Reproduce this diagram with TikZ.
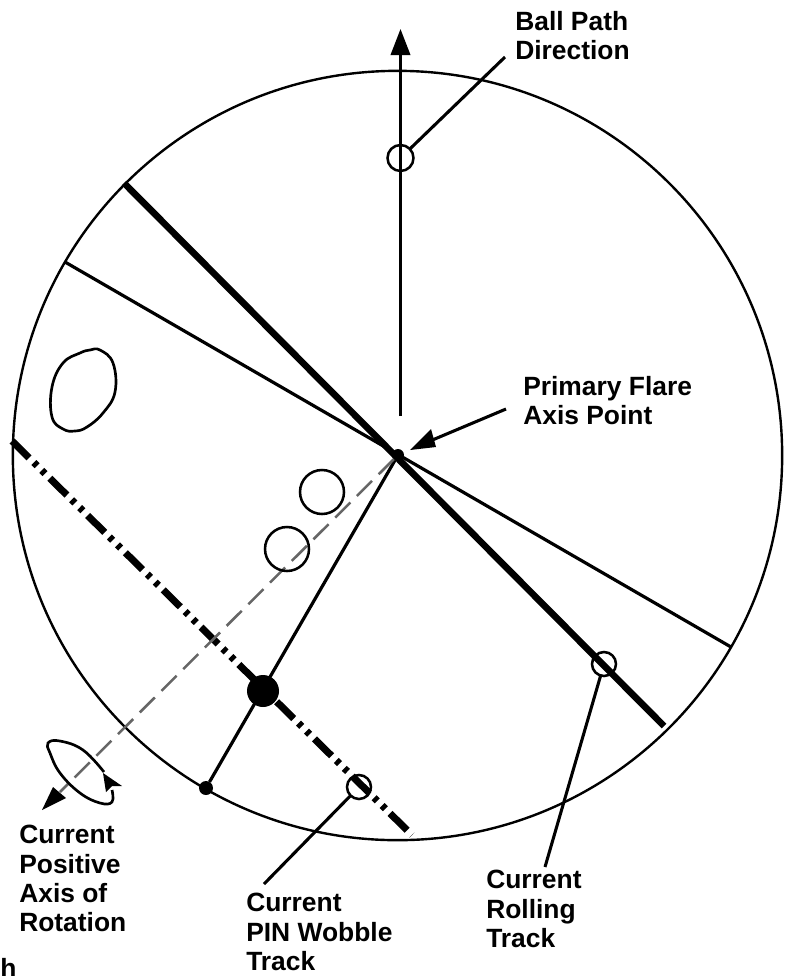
\documentclass[tikz,border=0pt]{standalone}
\usepackage{fontspec}
\setmainfont{Liberation Sans}
\usetikzlibrary{arrows.meta}
\tikzset{
  x=0.75pt,y=-0.75pt,
  lbl/.style={font=\bfseries\fontsize{19.8}{22}\selectfont,align=left,anchor=north west,inner sep=0pt,text=black},
  ring/.style={circle,draw=black,line width=1.9pt,fill=none,inner sep=0pt,outer sep=0pt},
  bigring/.style={ring,minimum size=33pt},
  smallring/.style={ring,minimum size=18pt},
  dotn/.style={circle,fill=black,inner sep=0pt,outer sep=0pt},
  call/.style={line width=2.3pt},
  dashax/.style={line width=5.3pt,dash pattern=on 18pt off 5pt on 3.4pt off 5pt on 3.4pt off 5pt},
}
\begin{document}
\begin{tikzpicture}
\useasboundingbox (0,0) rectangle (793,976);
\node[circle,draw=black,line width=1.8pt,inner sep=0pt,minimum size=577pt] (disc) at (397.5,455.5) {};
\coordinate (balltop) at (400.5,29);
\coordinate (ballbase) at (400.5,416);
\draw[line width=2pt,-{Triangle[length=19.5pt,width=14.5pt]}] (ballbase) -- (balltop);
\node[smallring,minimum size=19.5pt] (ballring) at (400.5,158) {};
\coordinate (ballcall) at (505,57);
\draw[call] (ballring) -- (ballcall);
\node[dotn,minimum size=9pt] (pfa) at (398,455) {};
\coordinate (t1) at (124,183); \coordinate (t2) at (664,726);
\draw[line width=5pt] (t1) -- (t2);
\coordinate (m1) at (65,262); \coordinate (m2) at (731,647);
\draw[line width=2.4pt] (m1) -- (m2);
\coordinate (w1) at (12,441); \coordinate (w2) at (412,835);
\draw[dashax] (w1) -- (w2);
\node[dotn,minimum size=24pt] (big) at (263,691) {};
\node[dotn,minimum size=10.5pt] (small) at (206,788) {};
\draw[line width=2.4pt] (pfa) -- (small);
\coordinate (axend) at (42,810);
\coordinate (axbase) at (60,792);
\draw[black!60,line width=1.9pt,dash pattern=on 16pt off 7pt] (pfa) -- (axbase);
\path[fill=black] (axend) -- (53,787) -- (66,798) -- cycle;
\node[bigring] (c1) at (322,492) {};
\node[bigring] (c2) at (287,549) {};
\node[smallring] (pinring) at (359,787) {};
\coordinate (pincall) at (264,884);
\draw[call] (pinring) -- (pincall);
\node[smallring] (rollring) at (604,664) {};
\coordinate (rollcall) at (545,867);
\draw[call] (rollring) -- (rollcall);
\coordinate (pfcall) at (506,409);
\coordinate (pftip) at (410,450);
\draw[call] (pfcall) -- (430,441);
\path[fill=black] (pftip) -- (431,429) -- (436,447) -- cycle;
\draw[line width=2pt] plot[smooth cycle,tension=0.7] coordinates {(52,387)(63,363)(80,353)(90,350)(100,350)(113,363)(115,392)(103,413)(87,427)(75,431)(63,429)(52,417)};
\draw[line width=2pt] plot[smooth,tension=0.7] coordinates {(104,772)(83,750)(60,741)(48,743)(50,753)(60,773)(80,793)(100,803)(112,802)(112,790)};
\path[fill=black] (103,773) -- (122,786) -- (112,786) -- (106,792) -- cycle;
\node[lbl] (tball) at (515,11) {Ball Path\\Direction};
\node[lbl] (tprim) at (523,376) {Primary Flare\\Axis Point};
\node[lbl] (tpos) at (19,825) {Current\\Positive\\Axis of\\Rotation};
\node[lbl] (tpin) at (246,893) {Current\\PIN Wobble\\Track};
\node[lbl] (troll) at (486,870) {Current\\Rolling\\Track};
\node[lbl] (th) at (0,958) {h};
\end{tikzpicture}
\end{document}
